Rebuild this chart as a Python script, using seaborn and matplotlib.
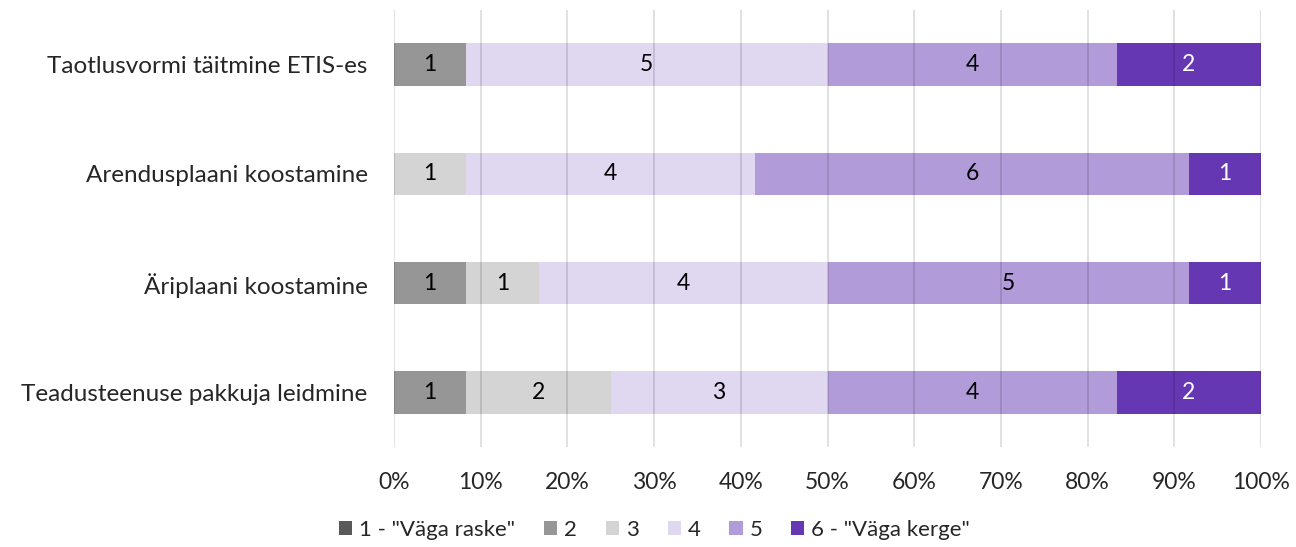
import matplotlib
matplotlib.use("Agg")
import matplotlib.pyplot as plt
import seaborn as sns
import numpy as np
from matplotlib.patches import Patch
from matplotlib.ticker import FuncFormatter

categories = ["Taotlusvormi täitmine ETIS-es", "Arendusplaani koostamine",
              "Äriplaani koostamine", "Teadusteenuse pakkuja leidmine"]
series_names = ['1 - "Väga raske"', '2', '3', '4', '5', '6 - "Väga kerge"']
s1 = [0, 0, 0, 0]
s2 = [1, 0, 1, 1]
s3 = [0, 1, 1, 2]
s4 = [5, 4, 4, 3]
s5 = [4, 6, 5, 4]
s6 = [2, 1, 1, 2]
series_values = [s1, s2, s3, s4, s5, s6]
colors = ["#595959", "#969696", "#d4d4d4", "#e0d7f0", "#b19cd9", "#6637b3"]
label_colors = ["black", "black", "black", "black", "black", "white"]

sns.set_theme(style="white")
plt.rcParams["font.family"] = ["Lato", "DejaVu Sans"]

counts = np.array(series_values, dtype=float)
totals = counts.sum(axis=0)
pct = counts / totals * 100
cum = np.cumsum(pct, axis=0)

fig = plt.figure(figsize=(12.96, 5.47), dpi=100)
ax = fig.add_axes([394/1296, 1-447/547, (1261-394)/1296, (447-10)/547])

for i in range(len(series_names) - 1, -1, -1):
    sns.barplot(x=cum[i], y=categories, color=colors[i], orient="h",
                width=0.39, ax=ax, saturation=1, linewidth=0)

for i in range(len(series_names)):
    start = cum[i] - pct[i]
    for j in range(len(categories)):
        if counts[i, j] > 0:
            ax.text(start[j] + pct[i, j] / 2, j, f"{int(counts[i, j])}",
                    ha="center", va="center", fontsize=16.5, color=label_colors[i])

ax.set_xlim(0, 100)
ax.set_ylim(3.5, -0.5)
ax.set_xticks(np.arange(0, 101, 10))
ax.xaxis.set_major_formatter(FuncFormatter(lambda v, p: f"{int(v)}%"))
ax.grid(axis="x", color="black", alpha=0.13, linewidth=1.3, zorder=5)
ax.set_axisbelow(False)
for sp in ax.spines.values():
    sp.set_visible(False)
ax.tick_params(axis="both", length=0)
ax.tick_params(axis="x", pad=18, labelsize=16.5)
ax.tick_params(axis="y", pad=19, labelsize=17.5)
ax.set_xlabel("")
ax.set_ylabel("")

handles = [Patch(facecolor=c, edgecolor="none", label=n) for c, n in zip(colors, series_names)]
fig.legend(handles=handles, loc="center", bbox_to_anchor=(0.505, 1-530/547), ncol=6,
           frameon=False, fontsize=16, handlelength=0.6, handleheight=0.6,
           handletextpad=0.3, columnspacing=1.3)

fig.savefig("out.png", dpi=100)
